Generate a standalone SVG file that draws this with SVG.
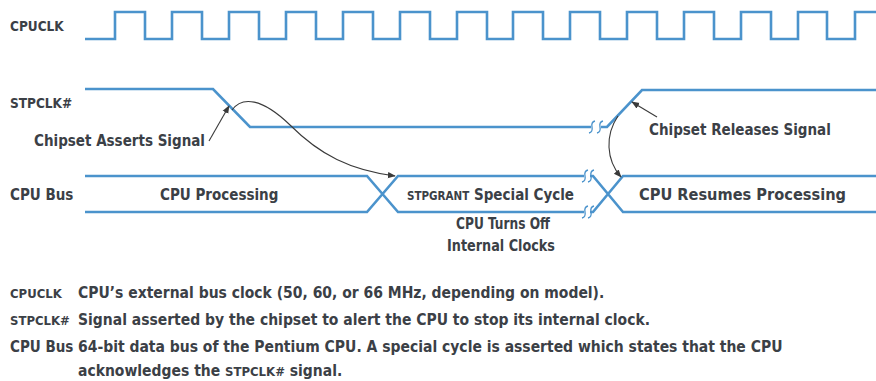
<svg xmlns="http://www.w3.org/2000/svg" width="876" height="381" viewBox="0 0 876 381">
<defs>
<style>
.sig{fill:none;stroke:#4b93cc;stroke-width:2.6;stroke-linejoin:miter}
.brk{fill:none;stroke:#4b93cc;stroke-width:1.3}
.arr{fill:none;stroke:#3a3a3a;stroke-width:1.1}
text{font-family:"Liberation Sans Narrow","Arial Narrow","DejaVu Sans Condensed",sans-serif;font-weight:bold;fill:#3b4046}
.lg{font-size:15px}
.ld{font-size:15.5px}
.sm{font-size:11.5px}
.tl{font-size:13.5px}
.ll{font-size:13px}
</style>
<marker id="ah" viewBox="0 0 10 10" refX="9" refY="5" markerWidth="8" markerHeight="8" markerUnits="userSpaceOnUse" orient="auto">
<path d="M0,1 L10,5 L0,9 Z" fill="#3a3a3a"/>
</marker>
</defs>
<rect width="876" height="381" fill="#ffffff"/>

<g id="cpuclk">
<text class="tl" x="10" y="31">CPUCLK</text>
<path class="sig" d="M85,39 H115 V12 H145 V39 H172 V12 H202 V39 H229 V12 H259 V39 H286 V12 H316 V39 H343 V12 H373 V39 H400 V12 H430 V39 H457 V12 H487 V39 H513 V12 H543 V39 H570 V12 H600 V39 H627 V12 H657 V39 H684 V12 H714 V39 H741 V12 H771 V39 H798 V12 H827 V39 H855 V12 H876"/>
</g>

<g id="stpclk">
<text class="tl" x="10" y="108">STPCLK#</text>
<path class="sig" d="M85,89 H213 L250,127 H591 M601,127 H607 L642,90 H876"/>
<path class="brk" d="M589,133 q4,-1 3,-6 t3,-6 M597,133 q4,-1 3,-6 t3,-6"/>
</g>

<g id="cpubus">
<text class="lg" x="10" y="200">CPU Bus</text>
<path class="sig" d="M85,176 H367 L398,212 H584 M85,212 H367 L398,176 H584 M590,176 H593 L623,212 H876 M590,212 H593 L623,176 H876"/>
<path class="brk" d="M582,182 q4,-1 3,-6 t3,-6 M588,182 q4,-1 3,-6 t3,-6 M582,218 q4,-1 3,-6 t3,-6 M588,218 q4,-1 3,-6 t3,-6"/>
</g>

<g id="cpu-processing"><text class="lg" x="160" y="200">CPU Processing</text></g>
<g id="stpgrant"><text x="407" y="200"><tspan class="sm">STPGRANT</tspan><tspan class="lg"> Special Cycle</tspan></text></g>
<g id="cpu-resumes"><text class="lg" x="639" y="200" textLength="207" lengthAdjust="spacingAndGlyphs">CPU Resumes Processing</text></g>
<g id="cpu-turns-off">
<text class="lg" x="503" y="229" text-anchor="middle" textLength="94" lengthAdjust="spacingAndGlyphs">CPU Turns Off</text>
<text class="lg" x="501" y="251" text-anchor="middle" textLength="108" lengthAdjust="spacingAndGlyphs">Internal Clocks</text>
</g>
<g id="chipset-asserts"><text class="lg" x="34" y="146">Chipset Asserts Signal</text></g>
<g id="chipset-releases"><text class="lg" x="649" y="135">Chipset Releases Signal</text></g>

<g id="connectors">
<path class="arr" d="M209,141 L229,106" marker-end="url(#ah)"/>
<path class="arr" d="M232,110 C242,96 262,98 290,125 C320,155 350,170 395,176" marker-end="url(#ah)"/>
<path class="arr" d="M657,117 L632,102" marker-end="url(#ah)"/>
<path class="arr" d="M618,116 C605,135 606,160 621,177" marker-end="url(#ah)"/>
</g>

<g id="legend">
<text class="ll" x="10" y="298">CPUCLK</text>
<text class="ld" x="78" y="298">CPU’s external bus clock (50, 60, or 66 MHz, depending on model).</text>
<text class="ll" x="10" y="325">STPCLK#</text>
<text class="ld" x="78" y="325">Signal asserted by the chipset to alert the CPU to stop its internal clock.</text>
<text class="lg" x="10" y="352">CPU Bus</text>
<text class="ld" x="78" y="352">64-bit data bus of the Pentium CPU. A special cycle is asserted which states that the CPU</text>
<text class="ld" x="78" y="376">acknowledges the <tspan class="ll">STPCLK#</tspan> signal.</text>
</g>
</svg>
